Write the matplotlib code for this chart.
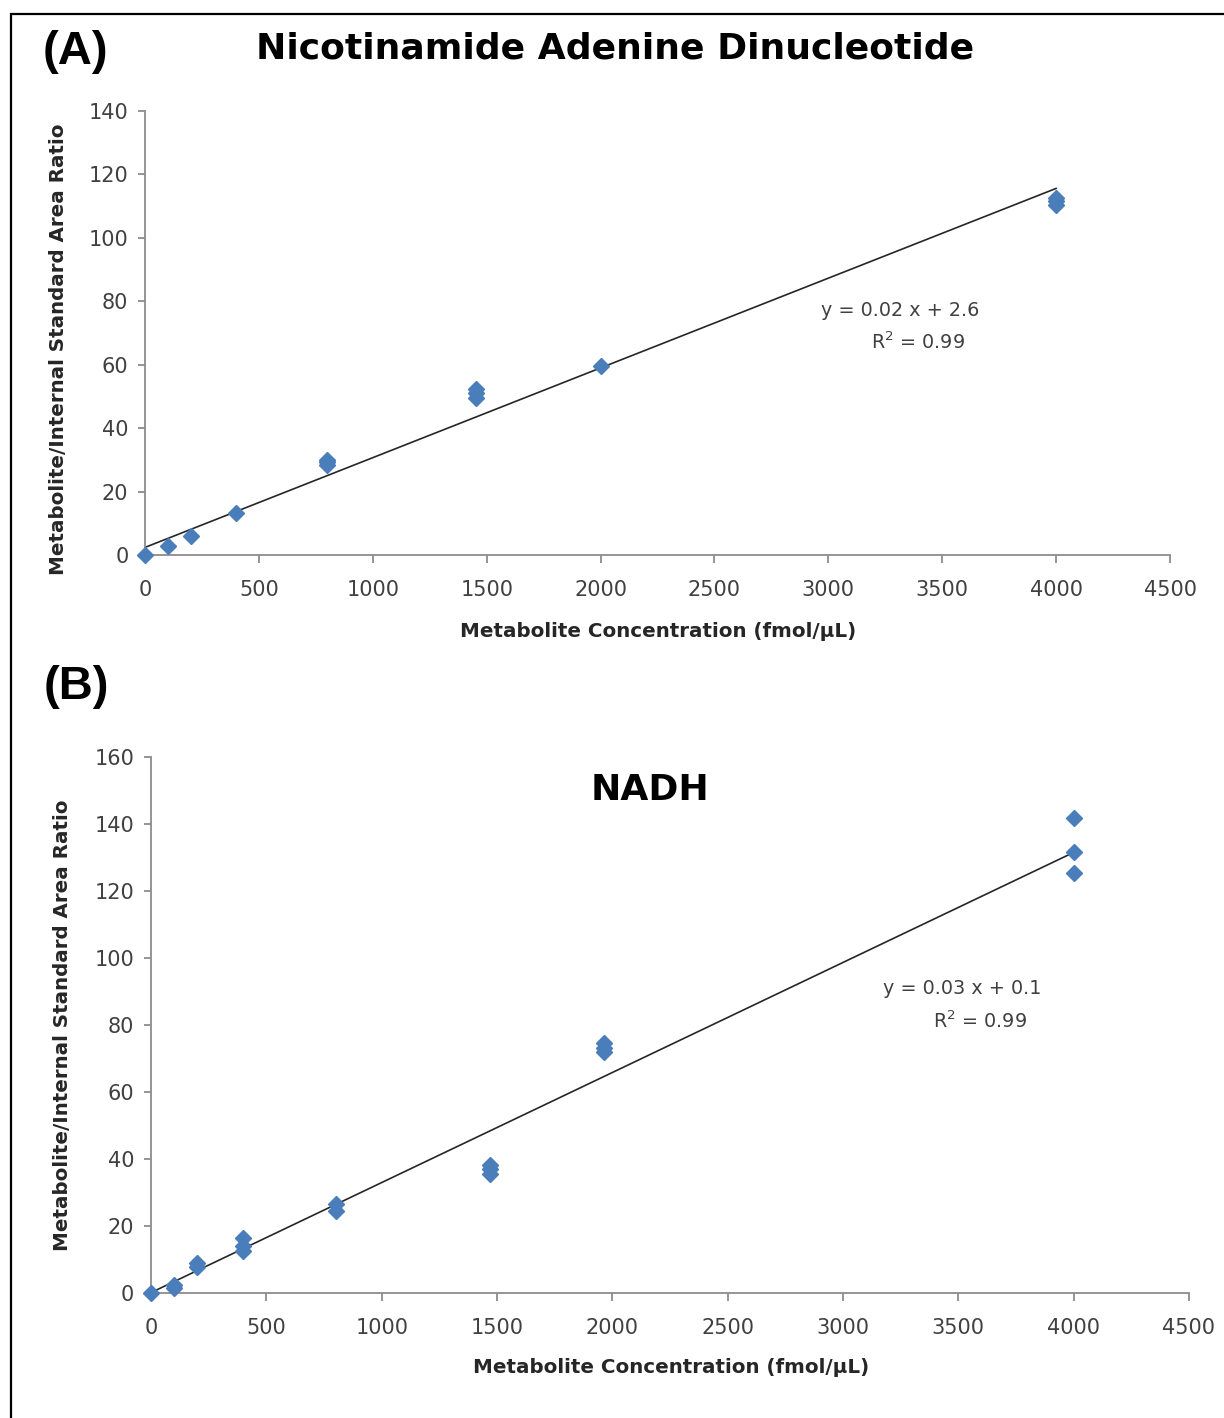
import numpy as np
import matplotlib
matplotlib.use("Agg")
import matplotlib.pyplot as plt
from matplotlib.patches import Rectangle

plt.rcParams['font.family'] = ['DejaVu Sans']

# Panel A: Nicotinamide Adenine Dinucleotide (NAD)
nad_conc = [0, 100, 200, 400, 800, 800, 800, 1455, 1455, 1455, 2000, 4000, 4000, 4000]
nad_ratio = [0, 2.8, 6, 13.3, 28.4, 29.4, 30, 49.5, 51, 52.5, 59.6, 110.5, 111.5, 112.5]
nad_fit = (0.0283, 2.4)        # slope, intercept of drawn trendline
nad_eq = ["y = 0.02 x + 2.6", "R$^2$ = 0.99"]

# Panel B: NADH
nadh_conc = [0, 100, 100, 200, 200, 400, 400, 400, 800, 800,
             1470, 1470, 1470, 1965, 1965, 1965, 4000, 4000, 4000]
nadh_ratio = [0, 1.5, 2.3, 7.8, 9, 12.5, 14, 16.3, 24.5, 26.4,
              35.4, 37, 38.2, 72, 73, 74.6, 125.5, 131.6, 141.7]
nadh_fit = (0.03285, 0.1)
nadh_eq = ["y = 0.03 x + 0.1", "R$^2$ = 0.99"]

xticks = np.arange(0, 4501, 500)
yticks_a = np.arange(0, 141, 20)
yticks_b = np.arange(0, 161, 20)

blue = '#4A7EBB'
axis_gray = '#8C8C8C'
text_gray = '#404040'
xlab = 'Metabolite Concentration (fmol/\u00b5L)'
ylab = 'Metabolite/Internal Standard Area Ratio'

fig = plt.figure(figsize=(12.24, 14.18), dpi=100)
ax_a = fig.add_axes([0.1185, 0.6086, 0.8374, 0.3131])
ax_b = fig.add_axes([0.1234, 0.0882, 0.8480, 0.3780])


def style(ax, yticks, ylim):
    ax.set_xlim(0, 4500)
    ax.set_ylim(0, ylim)
    ax.set_xticks(xticks)
    ax.set_yticks(yticks)
    for s in ['top', 'right']:
        ax.spines[s].set_visible(False)
    for s in ['left', 'bottom']:
        ax.spines[s].set_color(axis_gray)
        ax.spines[s].set_linewidth(1.3)
    ax.tick_params(axis='both', colors=axis_gray, width=1.3, labelcolor=text_gray,
                   labelsize=15)
    ax.tick_params(axis='x', length=6, pad=12)
    ax.tick_params(axis='y', length=5, pad=7)


def panel(ax, conc, ratio, fit, eq, eq_xy, yticks, ylim):
    style(ax, yticks, ylim)
    xs = np.array([0, max(conc)])
    ax.plot(xs, fit[0] * xs + fit[1], color='#262626', lw=1.2, zorder=2)
    ax.plot(conc, ratio, linestyle='none', marker='D', ms=8, color=blue,
            mec=blue, clip_on=False, zorder=3)
    ax.text(eq_xy[0], eq_xy[1], eq[0], ha='center', va='center', fontsize=13.8,
            color=text_gray)
    ax.text(eq_xy[0] + 80, eq_xy[1] - eq_xy[2], eq[1], ha='center', va='center',
            fontsize=13.8, color=text_gray)
    ax.set_xlabel(xlab, fontsize=14.3, fontweight='bold', color='#262626')
    ax.set_ylabel(ylab, fontsize=14.3, fontweight='bold', color='#262626')


panel(ax_a, nad_conc, nad_ratio, nad_fit, nad_eq, (3314, 77, 10), yticks_a, 140)
panel(ax_b, nadh_conc, nadh_ratio, nadh_fit, nadh_eq, (3515, 91, 9.8), yticks_b, 160)

ax_a.xaxis.set_label_coords(0.5005, -0.151)
ax_a.yaxis.set_label_coords(-0.075, 0.463)
ax_b.xaxis.set_label_coords(0.501, -0.121)
ax_b.yaxis.set_label_coords(-0.076, 0.5)

ax_b.text(2163, 150, 'NADH', ha='center', va='center', fontsize=26,
          fontweight='bold', color='black')
fig.text(0.5025, 0.966, 'Nicotinamide Adenine Dinucleotide', ha='center',
         va='center', fontsize=26, fontweight='bold')

fig.text(0.062, 0.963, '(A)', ha='center', va='center', fontsize=34,
         fontweight='bold', family=['Liberation Sans', 'DejaVu Sans'])
fig.text(0.062, 0.5155, '(B)', ha='center', va='center', fontsize=34,
         fontweight='bold', family=['Liberation Sans', 'DejaVu Sans'])

# outer frame (only left and top edges fall inside the picture)
fig.add_artist(Rectangle((11 / 1224, -0.1), 1.2, 1 - 14 / 1418 + 0.1,
                         transform=fig.transFigure, fill=False,
                         edgecolor='black', lw=1.6))

fig.savefig('out.png', dpi=100)
